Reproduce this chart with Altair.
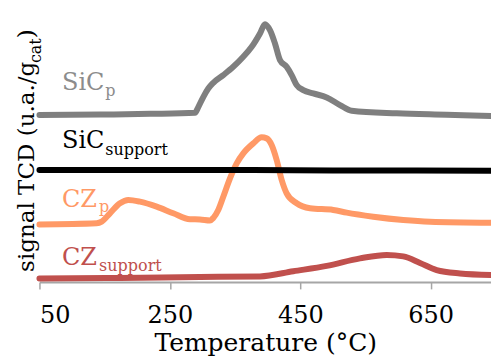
import altair as alt
import pandas as pd

# ---- data (temperature in °C, signal in arbitrary stacked units) ----
sicp_T = [50, 143, 220, 288.5, 293.6, 301.2, 308.9, 316.6, 331.9, 347.2, 362.6, 375.5, 388.2, 395.9,
          403.5, 411.2, 418.9, 429.1, 436.8, 444.5, 454.6, 469.9, 490.5, 510.9, 528.8, 597.9, 674.5, 742.5]
sicp_S = [167, 167.5, 168.2, 169.2, 175, 185, 193.5, 199.3, 207, 215.3, 225.3, 235.3, 248.7, 258,
          252, 238.7, 222, 215.3, 207, 197, 192, 188.7, 184.7, 177, 171.3, 168.7, 167.3, 166]

sics_T = [50, 300, 500, 742.5]
sics_S = [112, 112, 111.6, 111.3]

czp_T = [50, 137.7, 145.4, 158.1, 173.5, 186.2, 204.1, 229.8, 255.2, 280.8, 296.2, 311.5, 316.6, 324.2,
         331.9, 342.2, 352.5, 362.6, 377.9, 390.8, 398.5, 406.1, 413.8, 421.5, 429.1, 444.5, 464.9,
         500.6, 521.2, 562, 608, 648.9, 742.5]
czp_S = [57.5, 58.7, 60.3, 68.7, 78.7, 82, 80.3, 75.3, 68.7, 62.7, 62.5, 61.5, 64, 72,
         85.3, 103.7, 118.7, 128.7, 138.7, 144.7, 143.7, 137, 122, 102, 88.7, 78.7, 73.7,
         72, 69.3, 65.3, 62, 60.3, 59.3]

czs_T = [50, 173.5, 296.2, 388.2, 439.3, 490.5, 541.6, 582.5, 608, 633.6, 659.2, 694.9, 742.5]
czs_S = [3.5, 4, 5, 5.5, 10.7, 16, 23.5, 27, 25.5, 19, 11.8, 8.5, 7]

series_names = ["SiCp", "CZp", "CZsupport", "SiCsupport"]
series_colors = ["#7f7f7f", "#ff9966", "#c0504d", "#000000"]

# labels
lab_main = ["SiC", "SiC", "CZ", "CZ"]
lab_sub = ["p", "support", "p", "support"]
lab_color = ["#8c8c8c", "#000000", "#ff9966", "#c0504d"]
lab_T = [84.5, 84.5, 84.5, 84.5]
lab_S = [192, 134, 75, 16.5]
sub_T = [151, 151, 141.5, 141.5]
sub_S = [186, 127, 70, 11]

x_ticks = [50, 250, 450, 650]
x_title = "Temperature (°C)"
y_title_parts = ["signal TCD (u.a./g", "cat", ")"]

# ---- build tables ----
rows = []
for name, Ts, Ss in [("SiCp", sicp_T, sicp_S), ("CZp", czp_T, czp_S),
                     ("CZsupport", czs_T, czs_S), ("SiCsupport", sics_T, sics_S)]:
    for t, s in zip(Ts, Ss):
        rows.append({"series": name, "T": t, "S": s})
df = pd.DataFrame(rows)

lab_df = pd.DataFrame({"main": lab_main, "sub": lab_sub, "color": lab_color,
                       "T": lab_T, "S": lab_S, "Ts": sub_T, "Ss": sub_S})

FONT = "DejaVu Serif"
W, H = 452, 282
x_scale = alt.Scale(domain=[50, 742.5], nice=False, zero=False)
y_scale = alt.Scale(domain=[0, 282], nice=False, zero=False)

x_axis = alt.Axis(values=x_ticks, title=x_title, grid=False,
                  domainColor="#a6a6a6", domainWidth=2,
                  tickColor="#a6a6a6", tickWidth=1.5, tickSize=7,
                  labelFont=FONT, labelFontSize=24, labelColor="#000000",
                  labelPadding=15,
                  titleFont=FONT, titleFontSize=25, titleFontWeight="normal",
                  titleColor="#000000", titlePadding=3)

lines = alt.Chart(df).mark_line(strokeWidth=6, interpolate="monotone",
                                strokeCap="round", strokeJoin="round").encode(
    x=alt.X("T:Q", scale=x_scale, axis=x_axis),
    y=alt.Y("S:Q", scale=y_scale, axis=None),
    color=alt.Color("series:N", scale=alt.Scale(domain=series_names, range=series_colors),
                    legend=None),
    order=alt.Order("T:Q"),
)

main_txt = alt.Chart(lab_df).mark_text(align="left", baseline="alphabetic",
                                       font=FONT, fontSize=24).encode(
    x=alt.X("T:Q", scale=x_scale, axis=x_axis), y=alt.Y("S:Q", scale=y_scale, axis=None),
    text="main:N", color=alt.Color("color:N", scale=None))

sub_txt = alt.Chart(lab_df).mark_text(align="left", baseline="alphabetic",
                                      font=FONT, fontSize=16).encode(
    x=alt.X("Ts:Q", scale=x_scale, axis=x_axis), y=alt.Y("Ss:Q", scale=y_scale, axis=None),
    text="sub:N", color=alt.Color("color:N", scale=None))

yt_df = pd.DataFrame({"t": y_title_parts})
yt_main = alt.Chart(yt_df).transform_filter(alt.datum.t == y_title_parts[0]).mark_text(
    align="left", baseline="alphabetic", angle=270, font=FONT, fontSize=23, color="#000000"
).encode(x=alt.value(-5), y=alt.value(272), text="t:N")
yt_sub = alt.Chart(yt_df).transform_filter(alt.datum.t == y_title_parts[1]).mark_text(
    align="left", baseline="alphabetic", angle=270, font=FONT, fontSize=16, color="#000000"
).encode(x=alt.value(2), y=alt.value(63), text="t:N")
yt_end = alt.Chart(yt_df).transform_filter(alt.datum.t == y_title_parts[2]).mark_text(
    align="left", baseline="alphabetic", angle=270, font=FONT, fontSize=23, color="#000000"
).encode(x=alt.value(-5), y=alt.value(38), text="t:N")

chart = alt.layer(lines, main_txt, sub_txt, yt_main, yt_sub, yt_end).properties(
    width=W, height=H,
    autosize=alt.AutoSizeParams(type="none"),
    padding={"left": 39.5, "top": 0, "right": 0, "bottom": 75},
    background="#ffffff",
).configure_view(strokeWidth=0, stroke="transparent")

chart.save("out.html", embed_options={"renderer": "svg", "actions": False})
